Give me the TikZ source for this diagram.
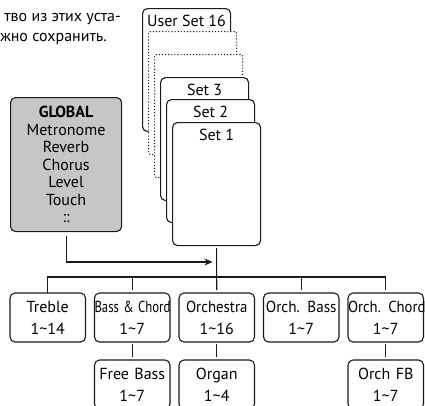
\documentclass[tikz,border=0pt]{standalone}
\usepackage{fontspec}
\setmainfont{PT Sans}
\usepackage{graphicx}
\definecolor{lineblk}{HTML}{1A1A1A}
\definecolor{globalgray}{HTML}{C6C6C6}
\usetikzlibrary{arrows.meta, positioning}
\tikzset{
	setbox/.style={draw=lineblk, fill=white, rounded corners=5pt, line width=1.1pt,
		minimum width=88pt, minimum height=123pt, anchor=north west, inner sep=0pt},
	dotbox/.style={setbox, dotted, rounded corners=2pt},
	setname/.style={font=\fontsize{16}{18}\selectfont, anchor=north, inner sep=0pt},
	catbox/.style={draw=lineblk, rounded corners=5pt, line width=1.1pt,
		text width=75.5pt, minimum height=49pt, align=center, inner sep=0pt, outer sep=0pt,
		font=\fontsize{16}{22}\selectfont},
	link/.style={draw=lineblk, line width=1.1pt},
	marr/.style={link, -{Stealth[length=8pt, width=7pt]}}
}

\begin{document}
\begin{tikzpicture}[x=1pt, y=-1pt, node distance=18pt and 9pt]
	\useasboundingbox (0,0) rectangle (425,405);
	\clip (0,0) rectangle (425,405);
	% note text, cut at the left edge
	\node[anchor=east, inner sep=0pt, font=\fontsize{16}{20}\selectfont] (note1) at (121,19) {тво из этих уста-};
	\node[anchor=east, inner sep=0pt, font=\fontsize{16}{20}\selectfont] (note2) at (107,39) {жно сохранить.};
	% stack of user sets
	\node[setbox] (us16) at (142,8) {};
	\node[setname] (us16lbl) at ([yshift=-7pt]us16.north) {User Set 16};
	\node[dotbox] (dots1) at (148,31) {};
	\node[dotbox] (dots2) at (154,54) {};
	\node[setbox] (set3) at (160,77) {};
	\node[setname] (set3lbl) at ([yshift=-7pt]set3.north) {Set 3};
	\node[setbox] (set2) at (166,99) {};
	\node[setname] (set2lbl) at ([yshift=-7pt]set2.north) {Set 2};
	\node[setbox] (set1) at (172,122) {};
	\node[setname] (set1lbl) at ([yshift=-7pt]set1.north) {Set 1};
	% global settings
	\node[draw=lineblk, fill=globalgray, rounded corners=5pt, line width=1.1pt,
		minimum width=111pt, minimum height=134pt, anchor=north west, align=center,
		inner sep=0pt, font=\fontsize{16}{17.5}\selectfont] (global) at (10,97)
		{\textbf{GLOBAL}\\Metronome\\Reverb\\Chorus\\Level\\Touch\\::};
	% categories
	\node[catbox, anchor=north west] (treble) at (10,293) {Treble\\1\textasciitilde 14};
	\node[catbox, right=of treble] (bcord) {\scalebox{0.8}[1]{Bass \& Chord}\\1\textasciitilde 7};
	\node[catbox, right=of bcord] (orch) {\scalebox{0.93}[1]{Orchestra}\\1\textasciitilde 16};
	\node[catbox, right=of orch] (obass) {\scalebox{0.95}[1]{Orch. Bass}\\1\textasciitilde 7};
	\node[catbox, right=of obass] (ochord) {\scalebox{0.92}[1]{Orch. Chord}\\1\textasciitilde 7};
	\node[catbox, below=of bcord] (fbass) {Free Bass\\1\textasciitilde 7};
	\node[catbox, below=of orch] (organ) {Organ\\1\textasciitilde 4};
	\node[catbox, below=of ochord] (orchfb) {Orch FB\\1\textasciitilde 7};
	% connectors
	\coordinate (lvl) at (0,262);
	\coordinate (busy) at (0,277);
	\draw[marr] ([yshift=-4pt]global.south) |- ([xshift=-4pt]set1.south |- lvl);
	\draw[link, shorten <=2pt, shorten >=3pt] (set1.south) -- (orch.north);
	\draw[link, shorten >=3pt] (treble.north) |- (busy -| ochord.north) -- (ochord.north);
	\draw[link, shorten >=3pt] (bcord.north |- busy) -- (bcord.north);
	\draw[link, shorten >=3pt] (obass.north |- busy) -- (obass.north);
	\draw[link, shorten <=2pt, shorten >=3pt] (bcord.south) -- (fbass.north);
	\draw[link, shorten <=2pt, shorten >=3pt] (orch.south) -- (organ.north);
	\draw[link, shorten <=2pt, shorten >=3pt] (ochord.south) -- (orchfb.north);
\end{tikzpicture}
\end{document}
